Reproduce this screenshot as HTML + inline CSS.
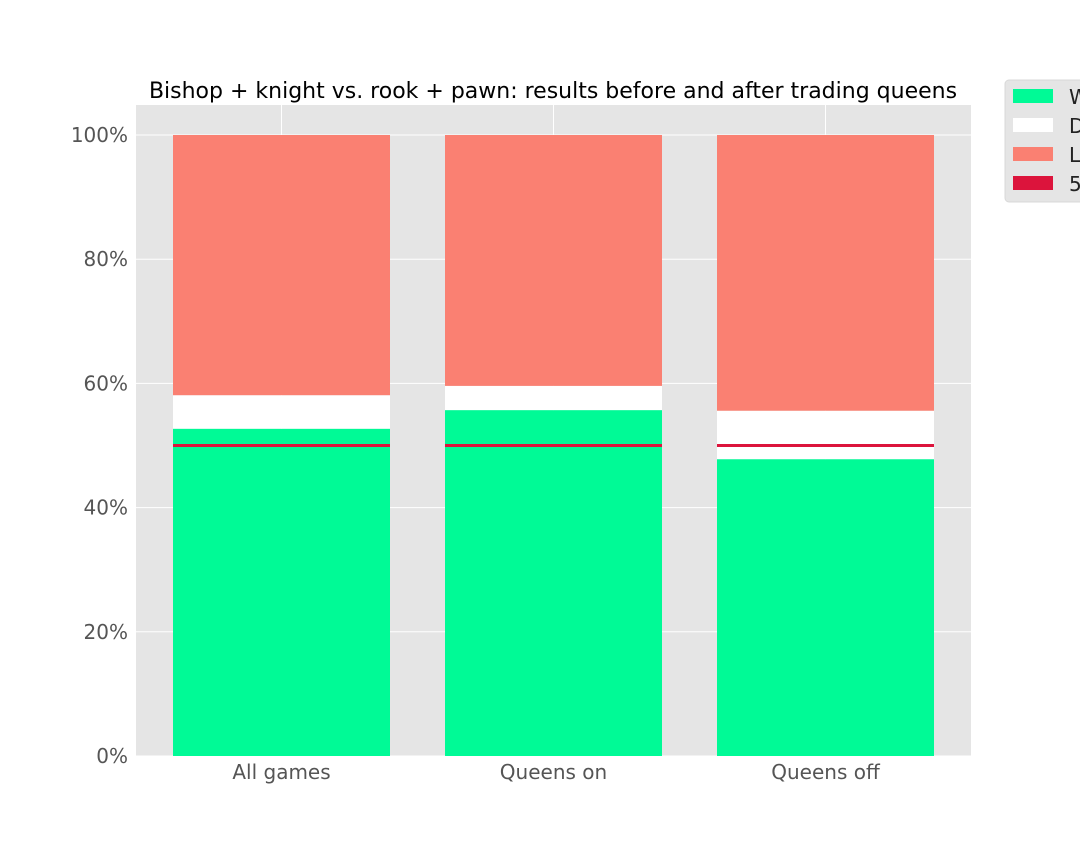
<!DOCTYPE html>
<html><head><meta charset="utf-8"><style>
html,body{margin:0;padding:0;background:#fff;overflow:hidden;width:1080px;height:864px}
svg{font-family:"DejaVu Sans","Liberation Sans",sans-serif}
</style></head><body>
<svg id="chart" width="1080" height="864" viewBox="0 0 1080 864">
<rect x="136" y="105" width="835" height="651" fill="#e5e5e5"/>
<g id="grid"></g>
<g id="bars"></g>
<g id="ticks"></g>
<text x="553" y="98" text-anchor="middle" font-size="22" fill="#000">Bishop + knight vs. rook + pawn: results before and after trading queens</text>
<g>
<rect x="1005" y="80" width="90" height="122" rx="4" fill="#e5e5e5" stroke="#d8d8d8"/>
<rect x="1013" y="89" width="40" height="14" fill="#00fa96"/>
<text x="1069" y="104" font-size="20" fill="#222">Win</text>
<rect x="1013" y="118" width="40" height="14" fill="#ffffff"/>
<text x="1069" y="133" font-size="20" fill="#222">Draw</text>
<rect x="1013" y="147" width="40" height="14" fill="#fa8072"/>
<text x="1069" y="162" font-size="20" fill="#222">Loss</text>
<rect x="1013" y="176" width="40" height="14" fill="#dc143c"/>
<text x="1069" y="191" font-size="20" fill="#222">50%</text>
</g>
</svg>
<script>
const categories = ["All games", "Queens on", "Queens off"];
const winPct = [52.7, 55.7, 47.8];
const drawPct = [5.4, 3.9, 7.8];
const lossPct = [41.9, 40.4, 44.4];
const yTicks = [0, 20, 40, 60, 80, 100];
const refLine = 50;

const NS = "http://www.w3.org/2000/svg";
const plotL = 136, plotR = 971, y0 = 756, y100 = 135;
const y = v => y0 - (v / 100) * (y0 - y100);
const xc = i => 281.5 + i * 272;
const bw = 217;
function mk(tag, attrs, parent) {
  const e = document.createElementNS(NS, tag);
  for (const k in attrs) e.setAttribute(k, attrs[k]);
  parent.appendChild(e);
  return e;
}
const grid = document.getElementById("grid"), bars = document.getElementById("bars"), ticks = document.getElementById("ticks");
yTicks.forEach(t => {
  const l = mk("line", {x1: plotL, x2: plotR, y1: y(t), y2: y(t), stroke: "#fff", "stroke-width": 1}, grid);
  
  
  const tx = mk("text", {x: 128, y: y(t) + 7, "text-anchor": "end", "font-size": 20, fill: "#555"}, ticks);
  tx.textContent = t + "%";
  
  
});
categories.forEach((c, i) => {
  const l = mk("line", {x1: xc(i), x2: xc(i), y1: 105, y2: 756, stroke: "#fff", "stroke-width": 1}, grid);
  
  
  const x = xc(i) - bw / 2;
  const w = winPct[i], d = drawPct[i], lo = lossPct[i];
  const b1 = mk("rect", {x: x, y: y(w), width: bw, height: y(0) - y(w), fill: "#00fa96"}, bars);
  
  
  const b2 = mk("rect", {x: x, y: y(w + d), width: bw, height: y(w) - y(w + d), fill: "#ffffff"}, bars);
  
  
  const b3 = mk("rect", {x: x, y: y(w + d + lo), width: bw, height: y(w + d) - y(w + d + lo), fill: "#fa8072"}, bars);
  
  
  const r = mk("line", {x1: x, x2: x + bw, y1: y(refLine), y2: y(refLine), stroke: "#dc143c", "stroke-width": 3}, bars);
  
  
  const tx = mk("text", {x: xc(i), y: 779, "text-anchor": "middle", "font-size": 20, fill: "#555"}, ticks);
  tx.textContent = c;
  
  
});
</script>
</body></html>
